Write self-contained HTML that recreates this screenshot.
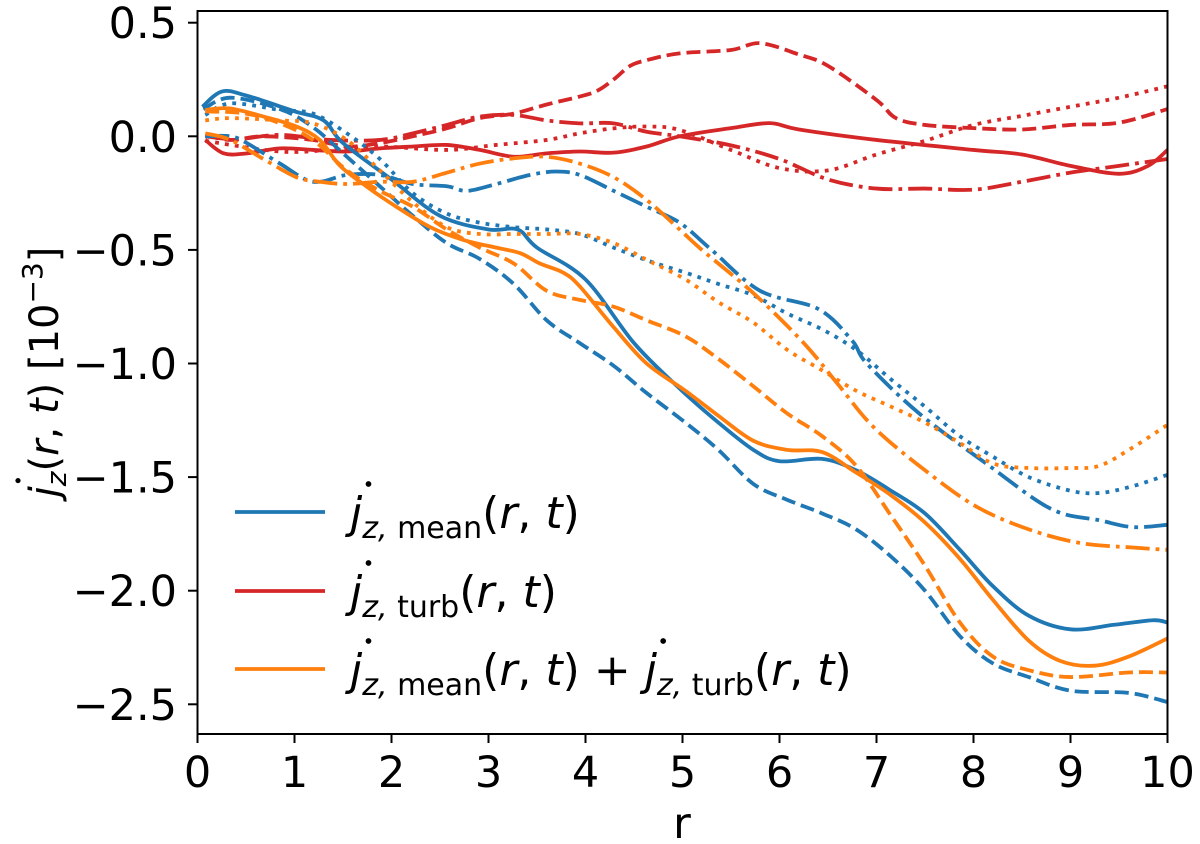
<!DOCTYPE html>
<html><head><meta charset="utf-8"><style>
html,body{margin:0;padding:0;background:#fff;}
svg{display:block;font-family:"DejaVu Sans","Liberation Sans",sans-serif;}
</style></head><body>
<svg id="chart" width="1200" height="844" viewBox="0 0 1200 844">
<g id="lines"></g>
<rect x="197.5" y="11" width="970" height="723" fill="none" stroke="#000" stroke-width="2"/>
<g id="ticks"></g>
<text x="682" y="838" font-size="43" text-anchor="middle">r</text>
<g transform="translate(58,372) rotate(-90)">
<text x="0" y="0" font-size="40" text-anchor="middle"><tspan class="jd" font-style="italic">j</tspan><tspan font-style="italic" font-size="28" dy="8">z</tspan><tspan dy="-8">(</tspan><tspan font-style="italic">r</tspan>, <tspan font-style="italic">t</tspan>) [10<tspan font-size="28" dy="-16">−3</tspan><tspan dy="16">]</tspan></text>
</g>
<g id="legend">
<g>
<line x1="235" y1="512" x2="325" y2="512" stroke="#1f77b4" stroke-width="3.8"/>
<text x="350" y="528" font-size="44"><tspan class="jd" font-style="italic">j</tspan><tspan font-style="italic" font-size="30" dy="10">z,</tspan><tspan font-size="30"> mean</tspan><tspan dy="-10">(</tspan><tspan font-style="italic">r</tspan>, <tspan font-style="italic">t</tspan>)</text>
</g>
<g>
<line x1="235" y1="591" x2="325" y2="591" stroke="#d62728" stroke-width="3.8"/>
<text x="350" y="607" font-size="44"><tspan class="jd" font-style="italic">j</tspan><tspan font-style="italic" font-size="30" dy="10">z,</tspan><tspan font-size="30"> turb</tspan><tspan dy="-10">(</tspan><tspan font-style="italic">r</tspan>, <tspan font-style="italic">t</tspan>)</text>
</g>
<g>
<line x1="235" y1="669" x2="325" y2="669" stroke="#ff7f0e" stroke-width="3.8"/>
<text x="350" y="685" font-size="44"><tspan class="jd" font-style="italic">j</tspan><tspan font-style="italic" font-size="30" dy="10">z,</tspan><tspan font-size="30"> mean</tspan><tspan dy="-10">(</tspan><tspan font-style="italic">r</tspan>, <tspan font-style="italic">t</tspan>) + <tspan class="jd" font-style="italic">j</tspan><tspan font-style="italic" font-size="30" dy="10">z,</tspan><tspan font-size="30"> turb</tspan><tspan dy="-10">(</tspan><tspan font-style="italic">r</tspan>, <tspan font-style="italic">t</tspan>)</text>
</g>
</g>
</svg>
<script>
const xTicks = [0,1,2,3,4,5,6,7,8,9,10];
const yTicks = [0.5,0.0,-0.5,-1.0,-1.5,-2.0,-2.5];
const yTickLabels = ["0.5","0.0","−0.5","−1.0","−1.5","−2.0","−2.5"];

const meanSolidR = [0.05,0.25,0.5,1,1.3,1.5,2,2.5,3,3.3,3.5,4,4.5,4.97,5.37,5.73,6,6.44,6.79,7.15,7.5,7.86,8.2,8.57,9,9.45,9.85,10];
const meanSolidV = [0.13,0.197,0.18,0.11,0.07,-0.03,-0.19,-0.35,-0.41,-0.41,-0.49,-0.63,-0.91,-1.11,-1.26,-1.38,-1.43,-1.42,-1.47,-1.56,-1.66,-1.82,-1.98,-2.11,-2.17,-2.15,-2.13,-2.14];
const sumSolidR = [0.08,0.33,0.68,1.02,1.26,1.47,1.74,2.05,2.4,2.74,3.08,3.33,3.53,3.77,3.94,4.29,4.63,5.03,5.37,5.73,6.08,6.44,6.79,7.15,7.5,7.86,8.2,8.57,8.9,9.25,9.6,10];
const sumSolidV = [0.116,0.123,0.087,0.043,-0.016,-0.13,-0.22,-0.31,-0.40,-0.456,-0.49,-0.515,-0.56,-0.60,-0.66,-0.84,-1.0,-1.12,-1.23,-1.34,-1.38,-1.39,-1.48,-1.58,-1.70,-1.86,-2.04,-2.22,-2.31,-2.33,-2.29,-2.21];
const meanDashR = [0.06,0.34,0.85,1.19,1.54,1.88,2.22,2.57,2.91,3.26,3.6,3.94,4.29,4.63,5.03,5.37,5.73,6.08,6.44,6.79,7.15,7.5,7.86,8.2,8.57,9,9.6,10];
const meanDashV = [0.12,0.17,0.12,0.04,-0.09,-0.22,-0.35,-0.47,-0.54,-0.65,-0.81,-0.91,-1.01,-1.13,-1.26,-1.38,-1.53,-1.60,-1.66,-1.73,-1.85,-2.0,-2.2,-2.32,-2.38,-2.44,-2.45,-2.49];
const sumDashR = [0.08,0.5,0.85,1.19,1.54,1.88,2.22,2.57,2.91,3.26,3.6,3.94,4.29,4.63,5.03,5.37,5.73,6.08,6.44,6.79,7.15,7.5,7.86,8.2,8.57,9,9.6,10];
const sumDashV = [0.11,0.1,0.057,-0.016,-0.15,-0.24,-0.31,-0.41,-0.49,-0.56,-0.68,-0.72,-0.75,-0.81,-0.88,-0.98,-1.1,-1.22,-1.32,-1.45,-1.67,-1.89,-2.14,-2.29,-2.35,-2.38,-2.36,-2.36];
const meanDotR = [0.08,0.34,0.85,1.19,1.54,1.88,2.22,2.57,2.91,3.26,3.6,3.94,4.29,4.66,5.03,5.37,5.73,6.08,6.44,6.79,7.15,7.5,7.86,8.2,8.57,9,9.3,9.64,10];
const meanDotV = [0.094,0.145,0.116,0.10,0.013,-0.10,-0.25,-0.34,-0.38,-0.40,-0.41,-0.43,-0.49,-0.55,-0.60,-0.65,-0.70,-0.78,-0.85,-0.94,-1.07,-1.19,-1.32,-1.41,-1.50,-1.56,-1.57,-1.54,-1.49];
const sumDotR = [0.08,0.34,0.85,1.19,1.54,1.88,2.22,2.57,2.91,3.26,3.6,3.94,4.29,4.66,5.03,5.37,5.73,6.08,6.44,6.79,7.15,7.5,7.86,8.2,8.57,9,9.3,9.64,10];
const sumDotV = [0.07,0.08,0.07,0.057,-0.016,-0.15,-0.29,-0.40,-0.43,-0.43,-0.43,-0.43,-0.47,-0.55,-0.63,-0.73,-0.82,-0.94,-1.03,-1.12,-1.19,-1.26,-1.35,-1.44,-1.46,-1.46,-1.45,-1.37,-1.27];
const meanDashDotR = [0.08,0.34,0.51,0.85,1.19,1.54,1.88,2.22,2.57,2.78,3.08,3.43,3.7,3.94,4.29,4.63,4.97,5.3,5.8,6.4,6.75,6.9,7.44,8.13,8.8,9.3,9.64,10];
const meanDashDotV = [0.0,0.0,-0.03,-0.12,-0.2,-0.17,-0.17,-0.21,-0.22,-0.24,-0.21,-0.17,-0.155,-0.17,-0.24,-0.31,-0.38,-0.50,-0.68,-0.76,-0.90,-1.0,-1.22,-1.44,-1.64,-1.69,-1.72,-1.71];
const sumDashDotR = [0.08,0.34,0.68,1.02,1.26,1.54,1.88,2.22,2.57,2.91,3.26,3.6,3.94,4.29,4.63,4.97,5.2,5.73,6.25,6.6,6.97,7.5,8.03,8.57,9.1,9.64,10];
const sumDashDotV = [0.013,-0.016,-0.10,-0.18,-0.20,-0.21,-0.20,-0.20,-0.16,-0.12,-0.097,-0.09,-0.12,-0.18,-0.28,-0.41,-0.5,-0.69,-0.91,-1.09,-1.28,-1.47,-1.63,-1.73,-1.79,-1.81,-1.82];
const turbSolidR = [0.08,0.27,0.51,0.85,1.19,1.54,1.88,2.22,2.57,2.91,3.26,3.6,3.94,4.29,4.63,4.97,5.5,5.9,6.2,7,8,8.5,9,9.5,9.8,10];
const turbSolidV = [-0.016,-0.075,-0.075,-0.053,-0.06,-0.067,-0.053,-0.045,-0.038,-0.06,-0.09,-0.075,-0.067,-0.072,-0.045,0.0,0.036,0.058,0.03,-0.016,-0.06,-0.08,-0.13,-0.165,-0.13,-0.06];
const turbDashR = [0.08,0.34,0.68,1.19,1.54,1.88,2.22,2.57,2.91,3.26,3.6,3.94,4.12,4.29,4.46,4.63,4.97,5.5,5.8,6.2,6.5,7,7.2,7.5,8,8.5,9,9.5,10];
const turbDashV = [0.006,-0.016,0.0,-0.016,-0.045,-0.03,0.0,0.035,0.08,0.1,0.14,0.175,0.2,0.25,0.31,0.335,0.365,0.38,0.41,0.36,0.31,0.16,0.08,0.05,0.036,0.03,0.05,0.06,0.12];
const turbDashDotR = [0.08,0.4,0.85,1.37,1.88,2.22,2.57,2.91,3.26,3.6,3.94,4.29,4.63,4.97,5.5,6,6.5,7,7.5,8,8.5,9,9.5,10];
const turbDashDotV = [0.0,-0.013,0.006,-0.016,-0.016,0.013,0.05,0.087,0.094,0.07,0.057,0.057,0.02,0.0,-0.04,-0.1,-0.19,-0.23,-0.23,-0.235,-0.2,-0.16,-0.13,-0.1];
const turbDotR = [0.08,0.85,1.37,1.88,2.57,3.08,3.6,3.94,4.29,4.63,4.97,5.5,6,6.5,7,7.5,8,8.5,9,9.5,10];
const turbDotV = [-0.02,-0.067,-0.06,-0.045,-0.06,-0.038,-0.016,0.013,0.035,0.043,0.028,-0.06,-0.14,-0.15,-0.08,-0.02,0.05,0.09,0.13,0.17,0.22];

const X = r => 197.5 + 97 * r;
const Y = v => 136.3 - 227.2 * v;
const NS = "http://www.w3.org/2000/svg";

function smoothPath(rs, vs) {
  const p = rs.map((r, i) => [X(r), Y(vs[i])]);
  let d = "M" + p[0][0].toFixed(2) + "," + p[0][1].toFixed(2);
  for (let i = 0; i < p.length - 1; i++) {
    const p0 = p[i - 1] || p[i], p1 = p[i], p2 = p[i + 1], p3 = p[i + 2] || p2;
    const c1 = [p1[0] + (p2[0] - p0[0]) / 6, p1[1] + (p2[1] - p0[1]) / 6];
    const c2 = [p2[0] - (p3[0] - p1[0]) / 6, p2[1] - (p3[1] - p1[1]) / 6];
    d += "C" + c1.map(n => n.toFixed(2)).join(",") + " " + c2.map(n => n.toFixed(2)).join(",") + " " + p2.map(n => n.toFixed(2)).join(",");
  }
  return d;
}

const BLUE = "#1f77b4", RED = "#d62728", ORANGE = "#ff7f0e";
const DASH = "14,6", DOT = "3.8,6.2", DASHDOT = "24,6,3.8,6";
const linesG = document.getElementById("lines");
function addLine(name, rs, vs, color, dash) {
  const el = document.createElementNS(NS, "path");
  el.setAttribute("d", smoothPath(rs, vs));
  el.setAttribute("fill", "none");
  el.setAttribute("stroke", color);
  el.setAttribute("stroke-width", "3.8");
  if (dash) el.setAttribute("stroke-dasharray", dash);
  
  
  linesG.appendChild(el);
}
addLine("turb-dotted-line", turbDotR, turbDotV, RED, DOT);
addLine("turb-dashdot-line", turbDashDotR, turbDashDotV, RED, DASHDOT);
addLine("turb-dashed-line", turbDashR, turbDashV, RED, DASH);
addLine("turb-solid-line", turbSolidR, turbSolidV, RED, null);
addLine("mean-dotted-line", meanDotR, meanDotV, BLUE, DOT);
addLine("mean-dashdot-line", meanDashDotR, meanDashDotV, BLUE, DASHDOT);
addLine("mean-dashed-line", meanDashR, meanDashV, BLUE, DASH);
addLine("mean-solid-line", meanSolidR, meanSolidV, BLUE, null);
addLine("sum-dotted-line", sumDotR, sumDotV, ORANGE, DOT);
addLine("sum-dashdot-line", sumDashDotR, sumDashDotV, ORANGE, DASHDOT);
addLine("sum-dashed-line", sumDashR, sumDashV, ORANGE, DASH);
addLine("sum-solid-line", sumSolidR, sumSolidV, ORANGE, null);

const ticksG = document.getElementById("ticks");
xTicks.forEach(t => {
  const ln = document.createElementNS(NS, "line");
  ln.setAttribute("x1", X(t)); ln.setAttribute("x2", X(t));
  ln.setAttribute("y1", 734); ln.setAttribute("y2", 743);
  ln.setAttribute("stroke", "#000"); ln.setAttribute("stroke-width", "2");
  
  
  ticksG.appendChild(ln);
  const tx = document.createElementNS(NS, "text");
  tx.setAttribute("x", X(t)); tx.setAttribute("y", 787);
  tx.setAttribute("font-size", "43"); tx.setAttribute("text-anchor", "middle");
  tx.textContent = String(t);
  
  
  ticksG.appendChild(tx);
});
yTicks.forEach((t, i) => {
  const ln = document.createElementNS(NS, "line");
  ln.setAttribute("x1", 188); ln.setAttribute("x2", 197.5);
  ln.setAttribute("y1", Y(t)); ln.setAttribute("y2", Y(t));
  ln.setAttribute("stroke", "#000"); ln.setAttribute("stroke-width", "2");
  
  
  ticksG.appendChild(ln);
  const tx = document.createElementNS(NS, "text");
  tx.setAttribute("x", 177); tx.setAttribute("y", Y(t) + 15.5);
  tx.setAttribute("font-size", "43"); tx.setAttribute("text-anchor", "end");
  tx.textContent = yTickLabels[i];
  
  
  ticksG.appendChild(tx);
});

// over-dots for the time-derivative j symbols
document.querySelectorAll("tspan.jd").forEach(ts => {
  const txt = ts.ownerSVGElement ? ts.parentNode : null;
  if (!txt) return;
  let idx = 0, n = txt.firstChild;
  // find char index of this tspan within the text element
  const all = txt.textContent;
  let before = 0;
  for (const node of txt.childNodes) {
    if (node === ts) break;
    before += node.textContent.length;
  }
  idx = before;
  const fs = parseFloat(txt.getAttribute("font-size"));
  const pos = txt.getStartPositionOfChar(idx);
  const c = document.createElementNS(NS, "circle");
  c.setAttribute("cx", pos.x + 0.42 * fs);
  c.setAttribute("cy", pos.y - 1.0 * fs);
  c.setAttribute("r", 0.065 * fs);
  c.setAttribute("fill", "#000");
  
  
  txt.parentNode.appendChild(c);
});
</script>
</body></html>
